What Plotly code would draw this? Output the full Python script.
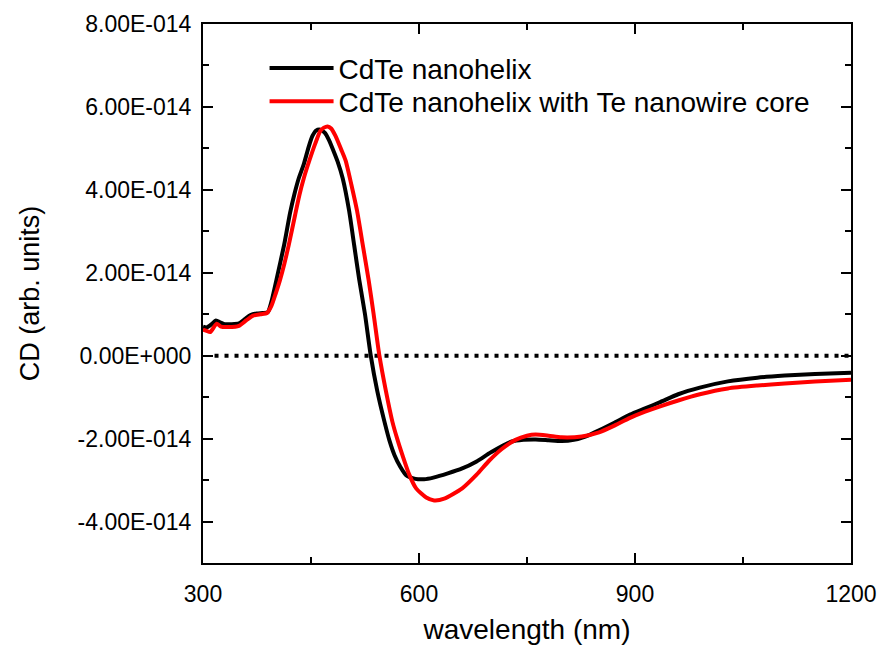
import plotly.graph_objects as go

SCALE = 1e-14  # CD values below are in units of 1e-14

# CdTe nanohelix (black)
wl_black = [300, 305, 312, 318, 324, 330, 340, 350, 358, 366, 375, 383, 390, 395, 402,
            408, 413, 421, 427, 433, 440, 447, 452, 457, 463, 469, 475, 481, 487, 494,
            503, 510, 517, 525, 533, 542, 552, 559, 566, 574, 582, 595, 607, 620, 640,
            660, 680, 700, 729, 745, 762, 780, 798, 815, 831, 850, 872, 893, 914, 935,
            960, 990, 1029, 1070, 1108, 1150, 1200]
cd_black = [0.70, 0.68, 0.76, 0.85, 0.80, 0.76, 0.76, 0.78, 0.88, 0.98, 1.02, 1.03, 1.05, 1.30, 1.83,
            2.30, 2.70, 3.45, 3.90, 4.28, 4.62, 5.05, 5.30, 5.43, 5.45, 5.38, 5.20, 4.95, 4.68, 4.28,
            3.49, 2.66, 1.83, 1.00, 0.00, -0.85, -1.59, -2.05, -2.40, -2.68, -2.88, -2.97, -2.98, -2.94, -2.84,
            -2.72, -2.55, -2.33, -2.07, -2.03, -2.02, -2.04, -2.06, -2.03, -1.95, -1.80, -1.61, -1.42, -1.27, -1.12,
            -0.93, -0.77, -0.62, -0.53, -0.48, -0.44, -0.41]

# CdTe nanohelix with Te nanowire core (red)
wl_red = [300, 305, 310, 319, 325, 335, 350, 360, 369, 380, 389, 395, 401, 407, 413,
          419, 428, 434, 440, 448, 456, 463, 468, 473, 478, 484, 492, 498, 506, 514,
          522, 530, 537, 545, 554, 563, 570, 577, 586, 596, 610, 621, 635, 660, 680,
          697, 715, 734, 750, 762, 780, 798, 826, 850, 872, 893, 914, 935, 960, 990,
          1029, 1070, 1108, 1150, 1200]
cd_red = [0.63, 0.60, 0.57, 0.77, 0.70, 0.69, 0.72, 0.85, 0.96, 1.00, 1.03, 1.20, 1.50, 1.83, 2.22,
          2.66, 3.40, 3.88, 4.28, 4.72, 5.12, 5.42, 5.50, 5.53, 5.48, 5.30, 4.97, 4.71, 4.13, 3.49,
          2.66, 1.83, 1.00, 0.00, -0.85, -1.59, -2.02, -2.40, -2.85, -3.20, -3.42, -3.49, -3.45, -3.20, -2.87,
          -2.54, -2.25, -2.03, -1.93, -1.90, -1.93, -1.97, -1.95, -1.85, -1.68, -1.50, -1.35, -1.22, -1.08, -0.93,
          -0.79, -0.72, -0.67, -0.62, -0.58]

zero_x = [316, 1200]
zero_y = [0, 0]

x_ticks = [300, 600, 900, 1200]
x_ticktext = ["300", "600", "900", "1200"]
x_minor = [450, 750, 1050]
y_ticks = [-4, -2, 0, 2, 4, 6, 8]
y_ticktext = ["-4.00E-014", "-2.00E-014", "0.00E+000", "2.00E-014", "4.00E-014", "6.00E-014", "8.00E-014"]
y_minor = [-5, -3, -1, 1, 3, 5, 7]

FONT = "Liberation Sans, Arial, sans-serif"

fig = go.Figure()
fig.add_trace(go.Scatter(x=zero_x, y=[v * SCALE for v in zero_y], mode="lines",
                         line=dict(color="black", width=4, dash="4px,6px"),
                         showlegend=False, hoverinfo="skip"))
fig.add_trace(go.Scatter(x=wl_black, y=[v * SCALE for v in cd_black], mode="lines",
                         name="CdTe nanohelix", legend="legend",
                         line=dict(color="black", width=4, shape="spline", smoothing=0.6)))
fig.add_trace(go.Scatter(x=wl_red, y=[v * SCALE for v in cd_red], mode="lines",
                         name="CdTe nanohelix with Te nanowire core", legend="legend2",
                         line=dict(color="#ff0000", width=4, shape="spline", smoothing=0.6)))

legend_common = dict(x=0.095, xanchor="left", yanchor="middle",
                     bgcolor="rgba(0,0,0,0)", font=dict(size=28, family=FONT),
                     itemwidth=64)
fig.update_layout(
    width=882, height=647,
    margin=dict(l=203, r=31, t=24, b=84),
    paper_bgcolor="white", plot_bgcolor="white",
    font=dict(family=FONT, color="black"),
    legend=dict(y=0.918, **legend_common),
    legend2=dict(y=0.856, **legend_common),
)
fig.update_xaxes(
    range=[300, 1200], tickmode="array", tickvals=x_ticks, ticktext=x_ticktext,
    ticks="inside", ticklen=10, tickwidth=2, tickcolor="black",
    showline=True, linewidth=2, linecolor="black", mirror="ticks",
    showgrid=False, zeroline=False, automargin=False,
    tickfont=dict(size=23, family=FONT), ticklabelstandoff=9,
    minor=dict(tickmode="array", tickvals=x_minor, ticks="inside", ticklen=6, tickwidth=2, tickcolor="black", showgrid=False),
    title=dict(text="wavelength (nm)", font=dict(size=28, family=FONT), standoff=14),
)
fig.update_yaxes(
    range=[-5 * SCALE, 8 * SCALE], tickmode="array",
    tickvals=[v * SCALE for v in y_ticks], ticktext=y_ticktext,
    ticks="inside", ticklen=10, tickwidth=2, tickcolor="black",
    showline=True, linewidth=2, linecolor="black", mirror="ticks",
    showgrid=False, zeroline=False, automargin=False,
    tickfont=dict(size=23, family=FONT), ticklabelstandoff=5,
    minor=dict(tickmode="array", tickvals=[v * SCALE for v in y_minor], ticks="inside", ticklen=6, tickwidth=2, tickcolor="black", showgrid=False),
    title=dict(text="CD (arb. units)", font=dict(size=27, family=FONT), standoff=30),
)

fig.write_html("out.html")
